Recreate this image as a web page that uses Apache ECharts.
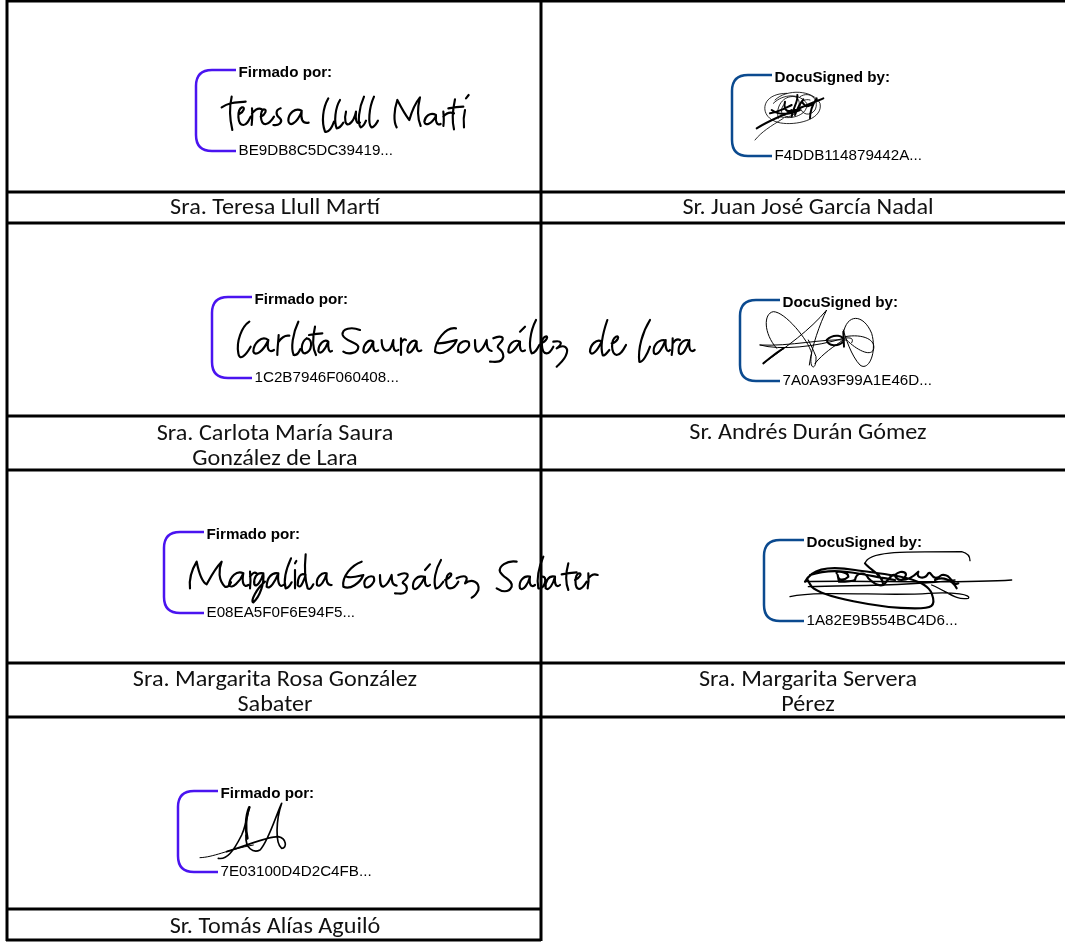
<!DOCTYPE html>
<html><head><meta charset="utf-8">
<style>html,body{margin:0;padding:0;background:#fff}#c{width:1065px;height:942px}</style>
<script src="https://cdn.jsdelivr.net/npm/echarts@6/dist/echarts.min.js"></script></head>
<body><div id="c"></div>
<script>
const names = [
  ["Sra. Teresa Llull Martí"], ["Sr. Juan José García Nadal"],
  ["Sra. Carlota María Saura", "González de Lara"], ["Sr. Andrés Durán Gómez"],
  ["Sra. Margarita Rosa González", "Sabater"], ["Sra. Margarita Servera", "Pérez"],
  ["Sr. Tomás Alías Aguiló"]
];
const headers = ["Firmado por:", "DocuSigned by:", "Firmado por:", "DocuSigned by:", "Firmado por:", "DocuSigned by:", "Firmado por:"];
const ids = ["BE9DB8C5DC39419...", "F4DDB114879442A...", "1C2B7946F060408...", "7A0A93F99A1E46D...", "E08EA5F0F6E94F5...", "1A82E9B554BC4D6...", "7E03100D4D2C4FB..."];
const accent = ["#4a14f0", "#0b4a8f", "#4a14f0", "#0b4a8f", "#4a14f0", "#0b4a8f", "#4a14f0"];
// bracket left x, top y
const brackets = [[196,70],[732,75],[212,297],[740,300],[164,532],[764,540],[178,791]];
const nameX = [275,808,275,808,275,808,275];
const nameY = [208.5,208.5,434,433.5,680,680,927];
const hLines = [[1,1065],[192,1065],[223,1065],[416,1065],[470,1065],[663,1065],[717,1065],[909,541],[940,541]];
const vLines = [[7,941],[541,941]];
// signature strokes, in 3x local units: origin x, origin y, [[stroke width, path]...]
const signatures = [
 [180,50,[[6.5,"M125 172C150 155 170 158 197 155M155 140C148 170 150 210 157 240M178 192C192 185 196 170 186 172C170 180 172 225 190 225C200 225 205 215 212 200M216 175C218 195 217 205 215 225M216 190C226 178 236 172 246 178M242 200C256 195 262 178 252 178C240 182 238 225 258 222C270 220 276 210 282 200M302 175C286 180 286 195 300 205C310 216 296 228 280 225M365 182C345 172 325 190 325 212C327 232 350 222 365 185C362 205 366 222 386 218M445 145C428 175 424 215 435 245C445 248 455 235 462 215M480 150C465 175 462 215 470 235C478 235 484 228 490 218M498 185C492 208 496 228 508 222C518 215 525 200 528 185C526 205 528 225 540 218M552 140C536 175 532 220 542 232C550 230 554 222 558 212M582 140C566 175 564 222 574 232C584 232 588 222 594 212M652 150C642 180 640 215 650 232M652 150C670 185 680 200 688 210C695 185 705 160 720 142C712 175 712 205 722 228M768 195C750 185 735 200 733 215C735 230 755 222 768 198C766 212 770 228 782 222M790 185C792 205 792 215 790 228M790 200C800 188 810 185 822 190M825 148C818 180 815 210 822 238M805 175C820 172 835 170 850 170M855 180C850 200 850 215 852 232M858 145L866 135"]]],
 [720,60,[[2.5,"M165 120C200 85 280 90 300 130C310 175 240 195 190 190C140 185 125 150 140 125C150 110 170 100 200 100M105 240C125 215 150 200 190 175M175 175C165 140 190 105 225 110C250 120 235 165 205 170C185 170 175 150 195 130M240 110C270 90 300 120 285 150C270 170 245 165 240 140C240 125 255 115 270 120M160 130C190 100 240 100 260 130C265 165 215 180 180 170"],[6,"M110 205C150 180 200 160 310 115M150 160C180 155 195 145 215 135M215 170C220 140 235 125 232 105M225 165C232 145 240 130 250 118M270 175C270 150 280 130 290 115M155 150C175 165 205 165 240 150M195 125C190 145 200 160 215 150M245 125C255 140 265 145 280 130"]]],
 [200,285,[[6.5,"M148 110C125 125 108 170 115 205C118 228 135 215 152 185M205 165C185 150 160 175 160 200C165 215 190 200 205 165C200 190 205 205 222 195M236 150C235 170 232 190 232 210M236 170C246 155 256 150 268 152M295 110C278 145 272 190 281 210C291 212 296 205 301 192M320 160C303 170 300 205 315 205C337 200 340 160 320 160M345 125C338 155 338 190 348 210M327 150C340 148 353 146 367 145M385 170C371 160 355 180 355 198C360 212 375 195 385 170C383 190 387 205 396 198M480 135C455 125 425 130 428 150C435 170 470 170 475 185C475 205 445 210 430 200M520 170C505 160 490 180 490 198C495 212 510 195 520 170C518 190 522 205 535 196M545 165C545 190 555 205 570 192C578 180 578 170 580 165C578 185 582 205 595 195M603 160C603 180 603 195 603 210M603 175C608 165 612 160 618 165M650 170C637 160 622 180 622 198C627 212 642 195 650 170C648 190 652 205 664 196M768 130C735 125 705 170 705 200C725 215 760 190 770 165C750 170 735 175 715 175M775 200C770 175 790 165 805 170C815 185 790 210 775 200M825 165C825 185 825 200 835 200C850 195 855 175 860 165C860 185 862 195 875 198M880 160C900 150 920 155 900 175C880 195 910 185 910 215C905 235 885 230 870 230M960 170C940 160 925 180 925 200C930 210 945 195 960 170C958 190 962 205 975 196M960 140L975 125M1008 105C990 140 985 185 995 205C1005 205 1010 195 1018 180M1022 175C1040 170 1048 150 1035 155C1022 160 1022 205 1040 205C1050 205 1055 195 1060 185M1060 170C1085 165 1090 175 1070 190C1095 175 1105 190 1100 205C1095 225 1080 235 1070 245M1205 170C1190 160 1170 180 1170 200C1175 215 1190 200 1205 170M1222 105C1210 140 1200 185 1208 210C1212 215 1220 205 1228 195M1235 175C1255 170 1260 150 1248 155C1232 165 1232 205 1250 210C1262 210 1270 195 1278 180M1350 105C1328 140 1313 190 1318 230C1328 235 1343 205 1350 185M1392 165C1372 165 1357 185 1362 205C1372 215 1387 190 1397 165C1395 190 1402 205 1410 195M1418 160C1418 180 1418 195 1415 210M1418 175C1425 165 1432 160 1440 165M1462 165C1445 165 1432 185 1437 205C1447 215 1460 190 1468 165C1466 190 1470 205 1484 195"]]],
 [730,290,[[3,"M140 175C100 130 100 70 130 65C165 65 235 150 245 190C235 240 260 245 258 200C250 180 240 160 235 150M100 220C170 170 240 120 290 60C270 100 245 170 238 225M255 220C280 190 310 170 340 150M90 165C150 182 260 170 340 145C370 140 370 150 365 158M90 165C180 170 280 145 350 150M340 130C350 70 400 70 425 130C442 190 415 245 390 225C365 200 345 140 340 120M345 140C400 130 440 150 430 180C420 200 380 180 350 150"],[6,"M100 220C120 205 135 190 160 175M290 150C310 130 345 135 340 155C325 170 295 170 290 150M340 125L342 170"]]],
 [155,525,[[6.5,"M125 110C110 135 102 165 105 190M125 110C130 135 140 170 155 178C170 150 180 130 200 110C190 135 190 165 210 185C218 188 225 180 228 172M265 145C245 135 225 155 222 180C230 195 255 170 265 145C260 170 265 190 280 180M285 140C287 160 287 175 285 190M285 155C292 145 298 140 305 145M325 145C305 140 295 160 298 178C305 190 320 165 325 145C328 175 315 215 295 232C285 230 305 190 330 170M370 145C350 140 335 160 335 185C345 195 360 170 370 145C367 170 373 190 385 180M408 100C392 135 386 170 392 190C400 190 405 182 410 172M420 135L420 190M420 115L424 108M452 150C435 140 428 160 428 180C436 195 445 170 452 150M452 88C448 130 450 165 458 190C465 195 470 188 475 178M515 145C500 140 482 160 486 180C496 190 510 165 515 145C512 165 516 182 530 180M620 110C590 120 560 155 565 185C585 195 615 175 625 150C605 155 590 160 575 155M630 185C622 165 640 150 655 155C665 170 640 195 630 185M675 150C675 170 675 185 685 185C700 180 705 160 710 150C710 170 712 180 725 182M730 150C750 140 770 145 750 165C730 180 760 170 755 195C750 210 735 205 720 205M805 155C785 150 770 170 775 190C785 200 800 175 810 155C808 175 812 190 825 180M810 135L825 118M858 105C840 135 835 170 842 190C850 192 858 180 865 170M870 165C885 160 895 145 885 145C870 150 870 190 885 190C895 190 905 180 910 170M905 160C925 150 945 150 930 175C950 160 975 170 970 195C960 215 955 215 950 218M1085 110C1055 105 1030 125 1035 140C1045 160 1075 165 1070 185C1060 205 1040 200 1025 190M1125 155C1105 150 1090 170 1095 190C1105 200 1120 175 1125 155C1122 175 1126 190 1140 180M1165 95C1150 130 1145 165 1150 190C1170 195 1180 150 1160 155M1200 155C1180 150 1170 170 1172 190C1182 200 1195 175 1200 155C1198 175 1202 190 1215 180M1240 115C1232 145 1232 175 1240 195M1220 148C1235 145 1250 143 1265 142M1260 165C1275 158 1282 145 1272 145C1258 150 1258 190 1272 192C1282 192 1288 180 1295 170M1300 145C1302 165 1300 180 1298 190M1300 160C1310 150 1315 145 1328 150"]]],
 [755,530,[[4,"M150 155C300 150 600 162 770 150M330 100C340 65 420 65 620 65C640 70 645 80 645 92M105 200C200 180 400 200 520 190C600 185 650 195 640 205C600 212 580 185 530 165M160 170C300 165 450 170 600 150"],[6.5,"M330 100C345 120 380 130 385 165M150 155C170 120 210 105 300 120C400 135 510 140 530 190C545 230 530 235 480 235C370 235 200 200 170 170C155 150 160 140 150 155M165 135C240 110 300 130 420 150M245 130C240 120 280 125 280 140C270 150 250 155 248 135M248 135L252 155C270 155 290 155 300 150C305 125 330 125 340 145C350 155 370 170 385 165C400 150 410 130 420 135C440 115 470 130 440 150C425 150 420 140 420 135M440 150C460 150 480 135 490 125C480 145 510 150 520 130C530 120 530 160 560 135C590 130 590 170 610 160M540 150C560 140 590 145 605 175"]]],
 [170,780,[[3,"M90 233C130 232 170 210 250 195"],[5,"M228 165C225 205 250 220 270 210C295 185 320 100 335 70C318 120 315 190 335 205C352 205 350 175 325 170C290 170 250 190 170 215M145 235C170 240 190 215 215 165C222 150 228 130 238 82"],[8,"M238 82C226 110 226 150 232 175"]]]
];

const g = [];
hLines.forEach(([y, x2]) => g.push({ type: 'line', z: 3, shape: { x1: 6, y1: y, x2: x2, y2: y }, style: { stroke: '#000', lineWidth: 3 } }));
vLines.forEach(([x, y2]) => g.push({ type: 'line', z: 3, shape: { x1: x, y1: 0, x2: x, y2: y2 }, style: { stroke: '#000', lineWidth: 3 } }));
const textStyle = (text, font, fill, align) => ({ text, font, fill, align, verticalAlign: 'middle', textAlign: align, textVerticalAlign: 'middle' });
brackets.forEach(([x, y], i) => {
  g.push({ type: 'text', z: 2, x: x + 42.5, y: y + 2.5, style: textStyle(headers[i], 'bold 15.2px "Liberation Sans"', '#000', 'left') });
  g.push({ type: 'text', z: 2, x: x + 42.5, y: y + 80.5, style: textStyle(ids[i], '15.2px "Liberation Sans"', '#000', 'left') });
});
names.forEach((lines, i) => lines.forEach((t, j) => g.push({
  type: 'text', z: 2, x: nameX[i], y: nameY[i] + j * 25, scaleX: 1.1,
  style: textStyle(t, '22px Carlito, Lato', '#111', 'center')
})));

const sigItem = (params) => {
  const [ox, oy, strokes] = signatures[params.dataIndex];
  const [bx, by] = brackets[params.dataIndex];
  const h = 81, r = 16, w = 40;
  const children = strokes.map(([lw, d]) => ({
    type: 'path', x: ox, y: oy, scaleX: 1/3, scaleY: 1/3,
    shape: { pathData: d },
    style: { fill: 'none', stroke: '#000', lineWidth: lw, lineCap: 'round', lineJoin: 'round' }
  }));
  children.push({
    type: 'path',
    shape: { pathData: `M${bx+w} ${by}L${bx+r} ${by}Q${bx} ${by} ${bx} ${by+r}L${bx} ${by+h-r}Q${bx} ${by+h} ${bx+r} ${by+h}L${bx+w} ${by+h}` },
    style: { fill: 'none', stroke: accent[params.dataIndex], lineWidth: 2.5 }
  });
  return { type: 'group', children };
};

const chart = echarts.init(document.getElementById('c'), null, { renderer: 'canvas' });
chart.setOption({
  animation: false, backgroundColor: '#fff',
  graphic: { elements: g },
  series: [{ type: 'custom', coordinateSystem: 'none', silent: true, data: headers.map((_, i) => i), renderItem: sigItem }]
});
</script></body></html>
